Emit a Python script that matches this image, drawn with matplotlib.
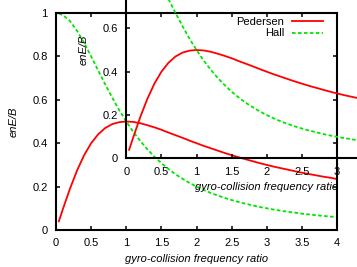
import matplotlib
matplotlib.use("Agg")
import matplotlib.pyplot as plt

plt.rcParams['font.family'] = ['Liberation Sans', 'DejaVu Sans']
plt.rcParams['font.size'] = 8

# gyro-collision frequency ratio and the two conductivities
ratio = [0.04, 0.1, 0.2, 0.3, 0.4, 0.5, 0.6, 0.7, 0.8, 0.9,
         1.0, 1.1, 1.2, 1.3, 1.4, 1.5, 1.6, 1.7, 1.8, 1.9,
         2.0, 2.1, 2.2, 2.3, 2.4, 2.5, 2.6, 2.7, 2.8, 2.9,
         3.0, 3.1, 3.2, 3.3, 3.4, 3.5, 3.6, 3.7, 3.8, 3.9, 4.0]
pedersen = [0.040, 0.099, 0.192, 0.275, 0.345, 0.400, 0.441, 0.470, 0.488, 0.497,
            0.500, 0.498, 0.492, 0.483, 0.473, 0.462, 0.449, 0.437, 0.425, 0.412,
            0.400, 0.388, 0.377, 0.366, 0.355, 0.345, 0.335, 0.326, 0.317, 0.308,
            0.300, 0.292, 0.285, 0.278, 0.271, 0.264, 0.258, 0.252, 0.246, 0.241, 0.235]
hall = [0.998, 0.990, 0.962, 0.917, 0.862, 0.800, 0.735, 0.671, 0.610, 0.552,
        0.500, 0.452, 0.410, 0.372, 0.338, 0.308, 0.281, 0.257, 0.236, 0.217,
        0.200, 0.185, 0.171, 0.159, 0.148, 0.138, 0.129, 0.121, 0.113, 0.106,
        0.100, 0.094, 0.089, 0.084, 0.080, 0.075, 0.072, 0.068, 0.065, 0.062, 0.059]

xticks = [0, 0.5, 1, 1.5, 2, 2.5, 3, 3.5, 4]
xlabels = ['0', '0.5', '1', '1.5', '2', '2.5', '3', '3.5', '4']
yticks = [0, 0.2, 0.4, 0.6, 0.8, 1]
ylabels = ['0', '0.2', '0.4', '0.6', '0.8', '1']

# the inset runs off the picture, only these ticks are seen
ins_xticks = xticks[:7]
ins_xlabels = xlabels[:7]
ins_yticks = yticks[:4]
ins_ylabels = ylabels[:4]

RED = '#ff0000'
GREEN = '#00e600'

fig = plt.figure(figsize=(3.57, 2.67), dpi=100)

# main plot and a shifted copy on top of it (same size, moved right/up)
ax = fig.add_axes([0.157, 0.1386, 0.787, 0.8127])
ins = fig.add_axes([0.3538, 0.4064, 0.787, 0.8127])
ins.patch.set_alpha(0)

for a in (ax, ins):
    a.plot(ratio, pedersen, color=RED, lw=1.3, label='Pedersen')
    a.plot(ratio, hall, color=GREEN, lw=1.3, dashes=(2.0, 1.3), label='Hall')
    a.set_xlim(0, 4)
    a.set_ylim(0, 1)
    a.set_xlabel('gyro-collision frequency ratio', style='italic', labelpad=4)
    a.set_ylabel('enE/B', style='italic', labelpad=10)
    for s in a.spines.values():
        s.set_linewidth(1.5)

ax.set_xticks(xticks)
ax.set_xticklabels(xlabels)
ax.set_yticks(yticks)
ax.set_yticklabels(ylabels)
ins.set_xticks(ins_xticks)
ins.set_xticklabels(ins_xlabels)
ins.set_yticks(ins_yticks)
ins.set_yticklabels(ins_ylabels)

ax.tick_params(direction='in', length=3.2, width=1.1, top=True, right=True, pad=6)
ins.tick_params(direction='in', length=3.2, width=1.1, pad=6)
ins.spines['top'].set_visible(False)
ins.spines['right'].set_visible(False)

ax.legend(loc='upper right', bbox_to_anchor=(0.962, 0.998), frameon=False,
          markerfirst=False, handlelength=2.8, handletextpad=0.7,
          labelspacing=0.15, borderpad=0.3, borderaxespad=0)

fig.savefig('out.png', dpi=100)
